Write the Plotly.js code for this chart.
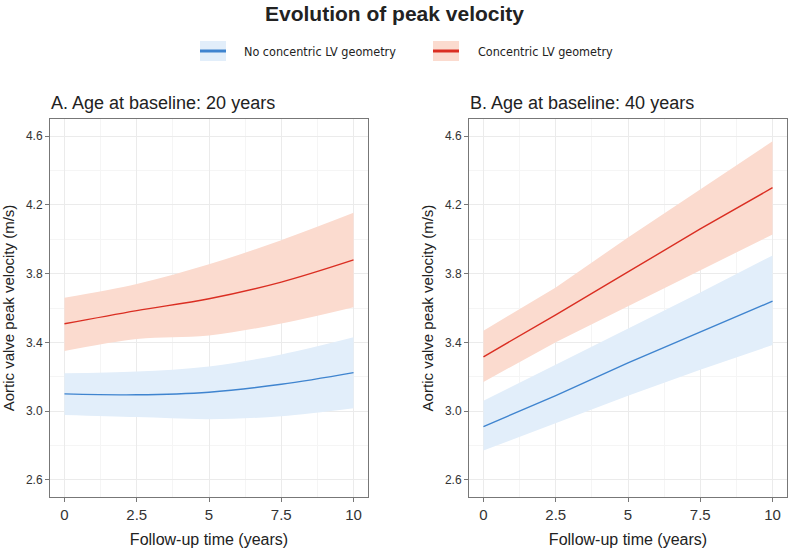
<!DOCTYPE html>
<html><head><meta charset="utf-8">
<script src="https://cdn.plot.ly/plotly-3.0.1.min.js"></script>
<style>body{margin:0;padding:0;background:#fff}#chart{width:789px;height:548px}</style>
</head><body><div id="chart"></div>
<script>
const years = [0, 2.5, 5, 7.5, 10];
// Panel A: age at baseline 20 years
const aNoMean  = [3.10, 3.095, 3.11, 3.156, 3.224];
const aNoLow   = [2.977, 2.965, 2.953, 2.97, 3.016];
const aNoHigh  = [3.22, 3.23, 3.26, 3.33, 3.43];
const aConMean = [3.508, 3.585, 3.654, 3.751, 3.88];
const aConLow  = [3.35, 3.42, 3.44, 3.51, 3.605];
const aConHigh = [3.66, 3.74, 3.854, 3.995, 4.154];
// Panel B: age at baseline 40 years
const bNoMean  = [2.91, 3.09, 3.28, 3.46, 3.64];
const bNoLow   = [2.77, 2.93, 3.09, 3.24, 3.385];
const bNoHigh  = [3.06, 3.27, 3.48, 3.69, 3.906];
const bConMean = [3.316, 3.56, 3.81, 4.06, 4.30];
const bConLow  = [3.17, 3.40, 3.61, 3.82, 4.028];
const bConHigh = [3.468, 3.72, 4.01, 4.29, 4.57];
const xTicks = [0, 2.5, 5, 7.5, 10];
const xTickText = ['0', '2.5', '5', '7.5', '10'];
const yTicks = [2.6, 3.0, 3.4, 3.8, 4.2, 4.6];
const yTickText = ['2.6', '3.0', '3.4', '3.8', '4.2', '4.6'];
const seriesNames = ['No concentric LV geometry', 'Concentric LV geometry'];
const panelTitles = ['A. Age at baseline: 20 years', 'B. Age at baseline: 40 years'];

const blueLine = '#3F84CF', blueFill = '#E2EEFA';
const redLine = '#DA2E22', redFill = '#FBDBCF';

function ribbon(x, lo, hi, mean, fill, line, xa, ya, curved) {
  const shape = curved ? 'spline' : 'linear';
  return [
    {x: x, y: lo, xaxis: xa, yaxis: ya, mode: 'lines', line: {width: 0, shape: shape}, hoverinfo: 'skip', showlegend: false},
    {x: x, y: hi, xaxis: xa, yaxis: ya, mode: 'lines', fill: 'tonexty', fillcolor: fill, line: {width: 0, shape: shape}, hoverinfo: 'skip', showlegend: false},
    {x: x, y: mean, xaxis: xa, yaxis: ya, mode: 'lines', line: {color: line, width: 1.4, shape: shape}, showlegend: false}
  ];
}

const data = [].concat(
  ribbon(years, aNoLow, aNoHigh, aNoMean, blueFill, blueLine, 'x', 'y', true),
  ribbon(years, aConLow, aConHigh, aConMean, redFill, redLine, 'x', 'y', true),
  ribbon(years, bNoLow, bNoHigh, bNoMean, blueFill, blueLine, 'x2', 'y2', false),
  ribbon(years, bConLow, bConHigh, bConMean, redFill, redLine, 'x2', 'y2', false)
);

const W = 789, H = 548;
const fnt = 'Liberation Sans, Arial, sans-serif';
function xax(d, anchor) {
  return {domain: d, anchor: anchor, range: [-0.5, 10.5], tickvals: xTicks, ticktext: xTickText,
    showline: true, mirror: true, linecolor: '#777', linewidth: 1,
    ticks: 'outside', ticklen: 4, tickcolor: '#777',
    gridcolor: '#EBEBEB', gridwidth: 1, zeroline: false,
    minor: {dtick: 1.25, tick0: 0, showgrid: true, gridcolor: '#F5F5F5', ticks: ''},
    tickfont: {family: fnt, size: 15, color: '#333'},
    title: {text: 'Follow-up time (years)', font: {family: fnt, size: 16, color: '#222'}, standoff: 11}};
}
function yax(d, anchor) {
  return {domain: d, anchor: anchor, range: [2.5, 4.7], tickvals: yTicks, ticktext: yTickText,
    showline: true, mirror: true, linecolor: '#777', linewidth: 1,
    ticks: 'outside', ticklen: 4, tickcolor: '#777',
    gridcolor: '#EBEBEB', gridwidth: 1, zeroline: false,
    minor: {dtick: 0.2, tick0: 2.6, showgrid: true, gridcolor: '#F5F5F5', ticks: ''},
    tickfont: {family: fnt, size: 12, color: '#333'},
    title: {text: 'Aortic valve peak velocity (m/s)', font: {family: fnt, size: 15, color: '#222'}, standoff: 7}};
}
const yd = [(H - 497) / H, (H - 119) / H];
const legFont = {family: 'Liberation Sans Narrow, DejaVu Sans Condensed, sans-serif', size: 12.5, color: '#222'};
function px(x) { return x / W; }
function py(y) { return 1 - y / H; }

const layout = {
  width: W, height: H,
  margin: {l: 0, r: 0, t: 0, b: 0},
  paper_bgcolor: '#fff', plot_bgcolor: '#fff',
  showlegend: false,
  xaxis: xax([px(50), px(368)], 'y'),
  yaxis: yax(yd, 'x'),
  xaxis2: xax([px(469), px(787)], 'y2'),
  yaxis2: yax(yd, 'x2'),
  title: {text: '<b>Evolution of peak velocity</b>', x: 0.5, xanchor: 'center', y: py(14), yanchor: 'middle',
    font: {family: fnt, size: 21, color: '#222'}},
  shapes: [
    {type: 'rect', xref: 'paper', yref: 'paper', x0: px(200), x1: px(226), y0: py(61), y1: py(41), fillcolor: blueFill, line: {width: 0}},
    {type: 'line', xref: 'paper', yref: 'paper', x0: px(200), x1: px(226), y0: py(51), y1: py(51), line: {color: blueLine, width: 3}},
    {type: 'rect', xref: 'paper', yref: 'paper', x0: px(433), x1: px(459), y0: py(61), y1: py(41), fillcolor: redFill, line: {width: 0}},
    {type: 'line', xref: 'paper', yref: 'paper', x0: px(433), x1: px(459), y0: py(51), y1: py(51), line: {color: redLine, width: 3}}
  ],
  annotations: [
    {text: seriesNames[0], xref: 'paper', yref: 'paper', x: px(242), y: py(51), xanchor: 'left', yanchor: 'middle', showarrow: false, font: legFont},
    {text: seriesNames[1], xref: 'paper', yref: 'paper', x: px(476), y: py(51), xanchor: 'left', yanchor: 'middle', showarrow: false, font: legFont},
    {text: panelTitles[0], xref: 'paper', yref: 'paper', x: px(49), y: py(103), xanchor: 'left', yanchor: 'middle', showarrow: false, font: {family: fnt, size: 18, color: '#222'}},
    {text: panelTitles[1], xref: 'paper', yref: 'paper', x: px(468), y: py(103), xanchor: 'left', yanchor: 'middle', showarrow: false, font: {family: fnt, size: 18, color: '#222'}}
  ]
};

Plotly.newPlot('chart', data, layout, {displayModeBar: false, staticPlot: true});
</script></body></html>
